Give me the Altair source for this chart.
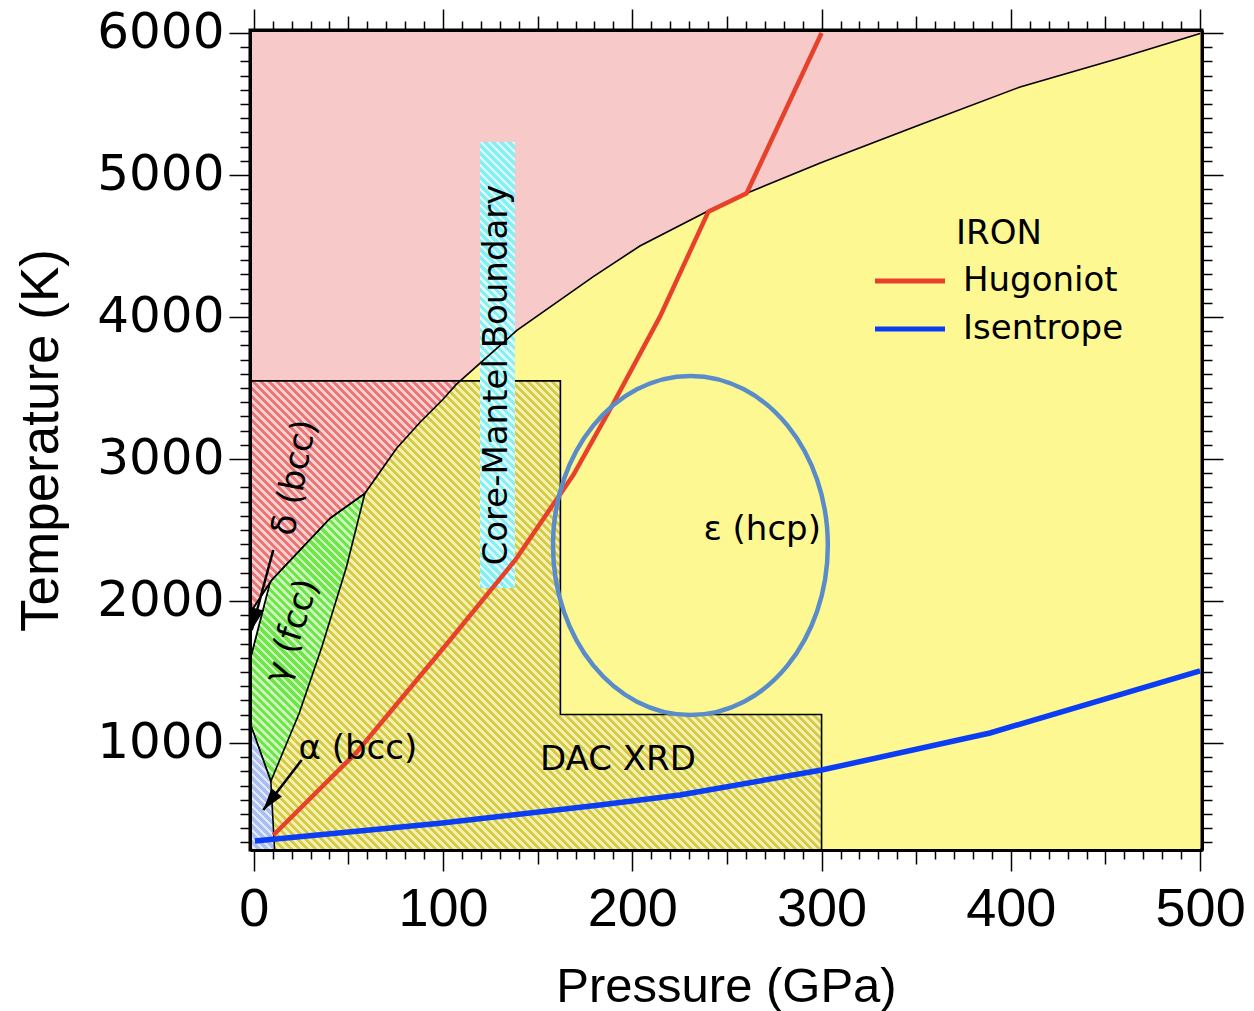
import math
import altair as alt
import pandas as pd

# ---------------- axes / frame ----------------
X_DOMAIN = [-2, 501]
Y_DOMAIN = [246, 6021]
PLOT_W, PLOT_H = 952, 820
PX_P = PLOT_W / (X_DOMAIN[1] - X_DOMAIN[0])
PX_T = PLOT_H / (Y_DOMAIN[1] - Y_DOMAIN[0])
X_TICKS = list(range(0, 501, 10))
Y_TICKS = list(range(300, 6001, 100))

# ---------------- data ----------------
MELT_P = [-2, 9.5, 40.3, 58.7, 75.5, 88, 100, 107, 139, 179.4, 204, 241, 260.4, 299.3, 352, 404.9, 457.7, 500]
MELT_T = [1915, 2147, 2582, 2758, 3075, 3260, 3420, 3525, 3905, 4284, 4500, 4753, 4871, 5085, 5353, 5620, 5824, 5997]

DAC_P = [-2, 162, 300]
DAC_T = [3550, 1200, 1200]

LIQBOX_P = [-2, 108, 107, 100, 88, 75.5, 58.7, 40.3, 9.5, -2]
LIQBOX_T = [3550, 3550, 3525, 3420, 3260, 3075, 2758, 2582, 2147, 1915]

GAMMA_P = [-2, 8.5, 9.5, 40.3, 58.7, 49, 36, 24, 9, -2, -2]
GAMMA_T = [1584, 2127, 2147, 2582, 2758, 2241, 1678, 1209, 730, 1140, 1584]

ALPHA_P = [-2, 9, 11, -2, -2]
ALPHA_T = [1140, 730, 246, 246, 1140]

DELTA_P = [-2, 8.5, -2, -2]
DELTA_T = [1915, 2127, 1584, 1915]

CMB_P = [119.5, 138]
CMB_T = [2091, 5232]

HUG_P = [10.3, 54.4, 103.7, 138.2, 168.8, 190, 214.6, 240.2, 260.4, 300]
HUG_T = [350, 935, 1725, 2289, 2887, 3392, 4002, 4742, 4871, 6000]

ISEN_P = [0.6, 98.4, 182.9, 225.2, 300, 389, 500]
ISEN_T = [310, 435, 563, 633, 809, 1070, 1507]

ELLIPSE_CENTER = (230.7, 2390)
ELLIPSE_HALF = (72.6, 1194)   # half width (GPa), half height (K)

LABEL_TEXT = ["δ (bcc)", "γ (fcc)", "α (bcc)", "DAC XRD", "ε (hcp)", "Core-Mantel Boundary"]
LABEL_P = [21.8, 20.4, 55, 192.4, 268.6, 128.5]
LABEL_T = [2868, 1788, 957, 880, 2500, 3591]
LABEL_ANGLE = [281, 288, 0, 0, 0, 270]

ARROW_P0 = [10.3, 25.3]
ARROW_T0 = [2359, 880]
ARROW_P1 = [-1.1, 5.0]
ARROW_T1 = [1795, 528]

SERIES = ["Hugoniot", "Isentrope"]
SERIES_COLORS = ["#e8412b", "#0b3ef4"]

# ---------------- styles ----------------
PINK = "#f8c9c9"
YELLOW = "#fdf891"
NARROW = "'Liberation Sans', Arial, sans-serif"
WIDE = "'DejaVu Sans', Verdana, sans-serif"

xs = alt.Scale(domain=X_DOMAIN, nice=False, zero=False)
ys = alt.Scale(domain=Y_DOMAIN, nice=False, zero=False)


def hatch(dark, light, P, T, period=8.0, duty=0.55):
    w = (max(P) - min(P)) * PX_P
    h = (max(T) - min(T)) * PX_T
    c = (w + h) / (w * w + h * h)
    n = max(1, int(round((w + h) / period)))
    stops = []
    for i in range(n):
        a, b, e = i / n, (i + duty) / n, (i + 1) / n
        stops += [
            {"offset": round(a, 5), "color": dark},
            {"offset": round(b, 5), "color": dark},
            {"offset": round(b, 5), "color": light},
            {"offset": round(e, 5), "color": light},
        ]
    return {"gradient": "linear", "x1": 0, "y1": 1,
            "x2": round(c * w, 5), "y2": round(1 - c * h, 5), "stops": stops}


def poly_df(P, T):
    return pd.DataFrame({"P": P, "T": T, "i": list(range(len(P)))})


def X(axis=None, field="P"):
    return alt.X(f"{field}:Q", scale=xs, axis=axis)


def Y(axis=None, field="T"):
    return alt.Y(f"{field}:Q", scale=ys, axis=axis)


tick_x = {"expr": "datum.value % 100 === 0 ? 21 : (datum.value % 50 === 0 ? 14 : 9)"}
tick_y = {"expr": "datum.value % 1000 === 0 ? 21 : 10"}

axis_bottom = alt.Axis(
    orient="bottom", values=X_TICKS, format="d",
    labelExpr="datum.value % 100 === 0 ? datum.label : ''",
    tickSize=tick_x, tickColor="black", tickWidth=1.5,
    domainColor="black", domainWidth=3, grid=False,
    labelFont=NARROW, labelFontSize=54, labelColor="black", labelPadding=11,
    labelOverlap=False, labelFlush=False,
    title="Pressure (GPa)", titleFont=NARROW, titleFontSize=49,
    titleFontWeight="normal", titleColor="black", titlePadding=26, zindex=3)
axis_left = alt.Axis(
    orient="left", values=Y_TICKS, format="d",
    labelExpr="datum.value % 1000 === 0 ? datum.label : ''",
    tickSize=tick_y, tickColor="black", tickWidth=1.5,
    domainColor="black", domainWidth=3, grid=False,
    labelFont=WIDE, labelFontSize=50, labelColor="black", labelPadding=5,
    labelOverlap=False, labelFlush=False,
    title="Temperature (K)", titleFont=NARROW, titleFontSize=53,
    titleFontWeight="normal", titleColor="black", titlePadding=28, zindex=3)
axis_top = alt.Axis(
    orient="top", values=X_TICKS, labels=False, title=None,
    tickSize=tick_x, tickColor="black", tickWidth=1.5,
    domainColor="black", domainWidth=3, grid=False, zindex=3)
axis_right = alt.Axis(
    orient="right", values=Y_TICKS, labels=False, title=None,
    tickSize=tick_y, tickColor="black", tickWidth=1.5,
    domainColor="black", domainWidth=3, grid=False, zindex=3)

melt_df = pd.DataFrame({"P": MELT_P, "T": MELT_T})
dac_df = pd.DataFrame({"P": DAC_P, "T": DAC_T})

# solid phase fields
yellow_area = alt.Chart(melt_df).mark_area(color=YELLOW, opacity=1).encode(
    x=X(axis_bottom), y=Y(axis_left), y2=alt.datum(Y_DOMAIN[0]))

dac_fill = alt.Chart(dac_df).mark_area(
    interpolate="step-after", opacity=1,
    fill=hatch("#d6cb47", "#f4f0b2", DAC_P + [DAC_P[-1]], DAC_T + [Y_DOMAIN[0]])).encode(
    x=X(), y=Y(), y2=alt.datum(Y_DOMAIN[0]))

liq_box = alt.Chart(poly_df(LIQBOX_P, LIQBOX_T)).mark_line(
    fill=hatch("#ec7676", "#f9d0d0", LIQBOX_P, LIQBOX_T), strokeWidth=0).encode(
    x=X(), y=Y(), order="i:Q")

gamma = alt.Chart(poly_df(GAMMA_P, GAMMA_T)).mark_line(
    fill=hatch("#6ee64a", "#cbf7ba", GAMMA_P, GAMMA_T), stroke="black", strokeWidth=1.6).encode(
    x=X(), y=Y(), order="i:Q")

alpha = alt.Chart(poly_df(ALPHA_P, ALPHA_T)).mark_line(
    fill=hatch("#aabef2", "#e2e9fb", ALPHA_P, ALPHA_T), stroke="black", strokeWidth=1.6).encode(
    x=X(), y=Y(), order="i:Q")

delta = alt.Chart(poly_df(DELTA_P, DELTA_T)).mark_line(
    fill="white", stroke="black", strokeWidth=1.6).encode(
    x=X(), y=Y(), order="i:Q")

dac_outline = alt.Chart(dac_df).mark_area(
    interpolate="step-after", fillOpacity=0, stroke="black", strokeWidth=1.6).encode(
    x=X(), y=Y(), y2=alt.datum(Y_DOMAIN[0]))

cmb = alt.Chart(pd.DataFrame({"P": [CMB_P[0]], "P2": [CMB_P[1]], "T": [CMB_T[0]], "T2": [CMB_T[1]]})).mark_rect(
    fill=hatch("#86eff6", "#dcfbfd", CMB_P, CMB_T), opacity=1).encode(
    x=X(), x2="P2:Q", y=Y(), y2="T2:Q")

melt_line = alt.Chart(melt_df).mark_line(color="black", strokeWidth=1.6).encode(
    x=X(axis_top), y=Y(axis_right))

legend = alt.Legend(
    orient="none", legendX=625, legendY=187, title="IRON",
    titleFont=WIDE, titleFontSize=34, titleFontWeight="normal", titleColor="black",
    titleAnchor="middle", titlePadding=13,
    labelFont=WIDE, labelFontSize=34, labelColor="black", labelLimit=0,
    symbolType="M-2.5,0L2.5,0", symbolSize=784, symbolStrokeWidth=5,
    symbolOffset=18, labelOffset=36, rowPadding=14, padding=0)
color_enc = alt.Color("series:N", scale=alt.Scale(domain=SERIES, range=SERIES_COLORS), legend=legend)

hug = alt.Chart(pd.DataFrame({"P": HUG_P, "T": HUG_T, "series": SERIES[0]})).mark_line(strokeWidth=4.5).encode(
    x=X(), y=Y(), color=color_enc)
isen = alt.Chart(pd.DataFrame({"P": ISEN_P, "T": ISEN_T, "series": SERIES[1]})).mark_line(strokeWidth=5.5).encode(
    x=X(), y=Y(), color=color_enc)

# ellipse (single point with an elliptical symbol)
ry_px = ELLIPSE_HALF[1] * PX_T
rx_ratio = round(ELLIPSE_HALF[0] * PX_P / ry_px, 4)
ellipse_path = f"M{-rx_ratio},0A{rx_ratio},1,0,1,1,{rx_ratio},0A{rx_ratio},1,0,1,1,{-rx_ratio},0Z"
ellipse = alt.Chart(pd.DataFrame({"P": [ELLIPSE_CENTER[0]], "T": [ELLIPSE_CENTER[1]]})).mark_point(
    shape=ellipse_path, size=round((2 * ry_px) ** 2), filled=False, color="#5b8cca",
    strokeWidth=4.5, opacity=1).encode(x=X(), y=Y())

labels = alt.Chart(pd.DataFrame({"P": LABEL_P, "T": LABEL_T, "text": LABEL_TEXT, "angle": LABEL_ANGLE})).mark_text(
    font=WIDE, fontSize=34, color="black", align="center", baseline="middle").encode(
    x=X(), y=Y(), text="text:N", angle=alt.Angle("angle:Q", scale=None))

arrow_angles = []
for p0, t0, p1, t1 in zip(ARROW_P0, ARROW_T0, ARROW_P1, ARROW_T1):
    dx = (p1 - p0) * PX_P
    dy = -(t1 - t0) * PX_T
    arrow_angles.append(round(math.degrees(math.atan2(dx, -dy)) % 360, 1))
arrow_df = pd.DataFrame({"P": ARROW_P0, "T": ARROW_T0, "P1": ARROW_P1, "T1": ARROW_T1, "angle": arrow_angles})
arrow_lines = alt.Chart(arrow_df).mark_rule(color="black", strokeWidth=2.5).encode(
    x=X(), y=Y(), x2="P1:Q", y2="T1:Q")
arrow_heads = alt.Chart(arrow_df).mark_point(
    shape="M0,0L-0.6,2L0.6,2Z", size=484, filled=True, color="black", opacity=1).encode(
    x=X(field="P1"), y=Y(field="T1"), angle=alt.Angle("angle:Q", scale=None))

chart = alt.layer(
    yellow_area, dac_fill, liq_box, gamma, alpha, delta, dac_outline, cmb, melt_line,
    hug, isen, ellipse, labels, arrow_lines, arrow_heads
).resolve_axis(x="independent", y="independent").properties(
    width=PLOT_W, height=PLOT_H,
    padding={"left": 250, "top": 30, "right": 52, "bottom": 161},
    autosize=alt.AutoSizeParams(type="none"),
    background="white",
).configure_view(fill=PINK, stroke="black", strokeWidth=3)

chart.save("out.html", embed_options={"renderer": "svg", "actions": False})
